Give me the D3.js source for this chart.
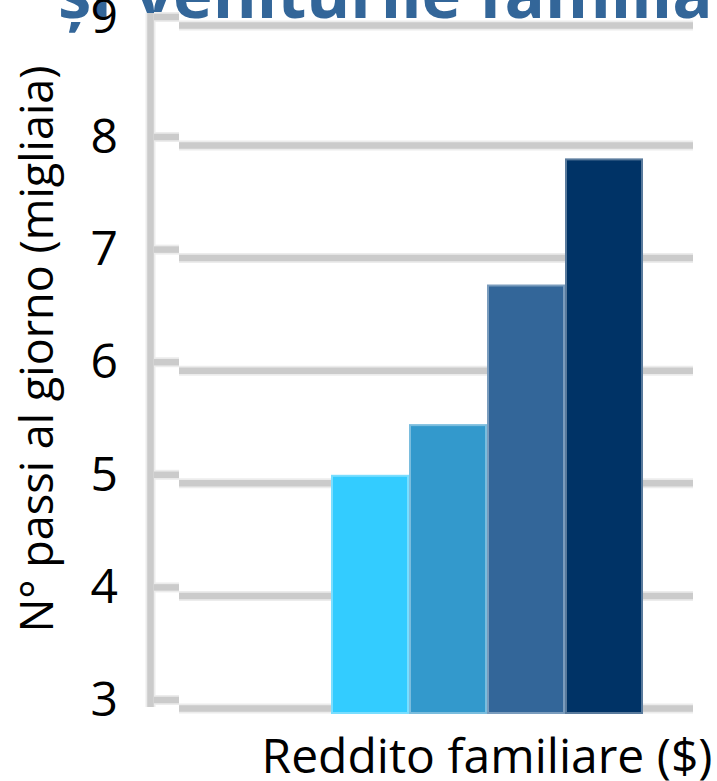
<!DOCTYPE html>
<html>
<head>
<meta charset="utf-8">
<script src="https://cdn.jsdelivr.net/npm/d3@7"></script>
<style>
  html, body { margin: 0; padding: 0; background: #ffffff; }
  svg { display: block; }
  text { font-family: "Open Sans", "Noto Sans", sans-serif; }
</style>
</head>
<body>
<script>
// Daily steps by household income band (thousands of steps)
const categories = ["Q1", "Q2", "Q3", "Q4"];
const steps = [5.0, 5.45, 6.69, 7.81];
const yTicks = [3, 4, 5, 6, 7, 8, 9];
const headlineWords = ["și", "veniturile familiale"];
const yTitle = "N° passi al giorno (migliaia)";
const xTitle = "Reddito familiare ($)";

const palette = ["#33ccff", "#3399cc", "#336699", "#003366"];
const gridCore = "#cbcbcb";
const gridHalo = "#ececec";

const W = 717, H = 781;
const svg = d3.select("body").append("svg")
  .attr("width", W).attr("height", H);

// value axis (top step slightly taller than the rest)
const y = d3.scaleLinear().domain([3, 8, 9]).range([700, 137, 17]);
const x = d3.scaleBand().domain(categories).range([331, 643]).padding(0);
const color = d3.scaleOrdinal(categories, palette);

const gridLeft = 179, gridRight = 693, axisX = 150.5;

// headline, running off the top edge
const head = svg.append("text")
  .attr("y", 18)
  .attr("fill", "#336699")
  .style("font-weight", "700")
  .style("font-size", "67px");
head.selectAll("tspan")
  .data(headlineWords)
  .join("tspan")
  .attr("x", (d, i) => [58, 135][i])
  .text(d => d);

// gridlines
const grid = svg.append("g");
function thickLine(g, x1, y1, x2, y2) {
  g.append("line").attr("x1", x1).attr("y1", y1).attr("x2", x2).attr("y2", y2)
    .attr("stroke", gridHalo).attr("stroke-width", 10);
  g.append("line").attr("x1", x1).attr("y1", y1).attr("x2", x2).attr("y2", y2)
    .attr("stroke", gridCore).attr("stroke-width", 6.5);
}
yTicks.forEach(t => thickLine(grid, gridLeft, y(t) + 8.5, gridRight, y(t) + 8.5));

// axis spine and tick stubs
const spine = svg.append("g");
thickLine(spine, axisX, y(9) - 4, axisX, y(3) + 7);
yTicks.forEach(t => thickLine(spine, axisX + 3.5, y(t), gridLeft, y(t)));

// bars
const base = y(3) + 13;
svg.append("g").selectAll("rect")
  .data(categories.map((c, i) => ({ c, v: steps[i] })))
  .join("rect")
  .attr("x", d => x(d.c) + 1)
  .attr("y", d => y(d.v) + 1)
  .attr("width", x.bandwidth() - 2)
  .attr("height", d => base - y(d.v) - 1)
  .attr("fill", d => color(d.c))
  .attr("stroke", d => d3.interpolateRgb(color(d.c), "#ffffff")(0.35))
  .attr("stroke-width", 2);

// tick labels
const yAxis = svg.append("g")
  .attr("transform", "translate(118,0)")
  .call(d3.axisLeft(y).tickValues(yTicks).tickSize(0).tickPadding(0).tickFormat(d3.format("d")));
yAxis.select(".domain").remove();
yAxis.selectAll("text")
  .attr("fill", "#000")
  .style("font-size", "48px")
  .style("font-family", "'Open Sans', sans-serif");

// axis titles
svg.append("text")
  .attr("x", (x.range()[0] + x.range()[1]) / 2)
  .attr("y", 773)
  .attr("text-anchor", "middle")
  .attr("fill", "#000")
  .style("font-size", "48px")
  .text(xTitle);

svg.append("text")
  .attr("transform", "translate(53,349) rotate(-90)")
  .attr("text-anchor", "middle")
  .attr("fill", "#000")
  .style("font-size", "45px")
  .text(yTitle);
</script>
</body>
</html>
